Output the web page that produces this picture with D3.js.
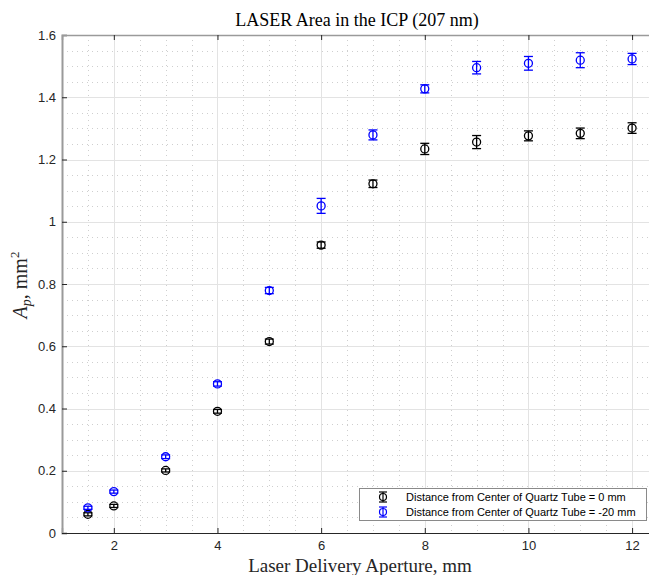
<!DOCTYPE html>
<html>
<head>
<meta charset="utf-8">
<script src="https://cdn.jsdelivr.net/npm/d3@7"></script>
<style>
  html, body { margin: 0; padding: 0; background: #fff; }
  svg { display: block; }
</style>
</head>
<body>
<svg id="chart" width="649" height="575"></svg>
<script>
// ---- data ----
const apertures = [1.5, 2, 3, 4, 5, 6, 7, 8, 9, 10, 11, 12];
const areaCenter = [0.060, 0.087, 0.201, 0.391, 0.615, 0.925, 1.122, 1.234, 1.256, 1.276, 1.284, 1.301];
const errCenter  = [0.005, 0.005, 0.005, 0.006, 0.008, 0.010, 0.012, 0.018, 0.021, 0.016, 0.017, 0.017];
const areaOffset = [0.081, 0.133, 0.245, 0.479, 0.779, 1.051, 1.279, 1.427, 1.495, 1.509, 1.519, 1.523];
const errOffset  = [0.005, 0.005, 0.006, 0.007, 0.010, 0.024, 0.016, 0.013, 0.020, 0.022, 0.024, 0.018];
const seriesNames = ["Distance from Center of Quartz Tube = 0 mm", "Distance from Center of Quartz Tube = -20 mm"];
const seriesColors = ["#000000", "#0000ff"];
const xTicks = [2, 4, 6, 8, 10, 12];
const yTicks = [0, 0.2, 0.4, 0.6, 0.8, 1, 1.2, 1.4, 1.6];
const titleText = "LASER Area in the ICP (207 nm)";
const xLabelText = "Laser Delivery Aperture, mm";

(function () {
// ---- layout ----
const svg = d3.select("#chart");
const pL = 62, pT = 35, pB = 533, pR = 658;
const x = d3.scaleLinear().domain([1, 12.5]).range([pL, pR]);
const y = d3.scaleLinear().domain([0, 1.6]).range([pB, pT]);

svg.append("rect").attr("width", 649).attr("height", 575).attr("fill", "#fff");

// minor grid
const g = svg.append("g");
const xMinor = d3.range(1.5, 12.51, 0.5).filter(v => !xTicks.includes(v));
const yMinor = d3.range(0.05, 1.6, 0.05).filter(v => !yTicks.some(t => Math.abs(t - v) < 1e-6));
g.selectAll(".xm").data(xMinor).join("line")
  .attr("x1", d => Math.round(x(d)) + 0.5).attr("x2", d => Math.round(x(d)) + 0.5)
  .attr("y1", pT).attr("y2", pB)
  .attr("stroke", "#cfcfcf").attr("stroke-width", 1).attr("stroke-dasharray", "1,4");
g.selectAll(".ym").data(yMinor).join("line")
  .attr("y1", d => Math.round(y(d)) + 0.5).attr("y2", d => Math.round(y(d)) + 0.5)
  .attr("x1", pL).attr("x2", pR)
  .attr("stroke", "#cfcfcf").attr("stroke-width", 1).attr("stroke-dasharray", "1,4");
// major grid
g.selectAll(".xg").data(xTicks).join("line")
  .attr("x1", d => Math.round(x(d)) + 0.5).attr("x2", d => Math.round(x(d)) + 0.5)
  .attr("y1", pT).attr("y2", pB)
  .attr("stroke", "#e3e3e3").attr("stroke-width", 1);
g.selectAll(".yg").data(yTicks).join("line")
  .attr("y1", d => Math.round(y(d)) + 0.5).attr("y2", d => Math.round(y(d)) + 0.5)
  .attr("x1", pL).attr("x2", pR)
  .attr("stroke", "#e3e3e3").attr("stroke-width", 1);

// axes
const xAxis = d3.axisBottom(x).tickValues(xTicks).tickSize(-5).tickPadding(8).tickFormat(d3.format("d"));
const yAxis = d3.axisLeft(y).tickValues(yTicks).tickSize(-5).tickPadding(6).tickFormat(d => d3.format("~g")(d));
const gx = svg.append("g").attr("transform", `translate(0,${pB})`).call(xAxis);
const gy = svg.append("g").attr("transform", `translate(${pL},0)`).call(yAxis);
const gxTop = svg.append("g").attr("transform", `translate(0,${pT})`)
  .call(d3.axisTop(x).tickValues(xTicks).tickSize(-5).tickFormat(""));
[gx, gy, gxTop].forEach(a => {
  a.selectAll("text").attr("font-family", "Liberation Sans, Arial, sans-serif")
    .attr("font-size", 13).attr("fill", "#262626");
  a.selectAll(".tick line").attr("stroke", "#262626");
});
gx.select(".domain").attr("stroke", "#262626").attr("stroke-width", 1.2);
gy.select(".domain").attr("stroke", "#9a9a9a").attr("stroke-width", 2);
gxTop.select(".domain").attr("stroke", "#9a9a9a").attr("stroke-width", 1.5);

// data series
const series = [
  { vals: areaCenter, errs: errCenter, color: seriesColors[0] },
  { vals: areaOffset, errs: errOffset, color: seriesColors[1] }
];
const cap = 4.5, r = 4;
series.forEach(s => {
  const pts = apertures.map((a, i) => ({ a, v: s.vals[i], e: s.errs[i] }));
  const sg = svg.append("g").attr("stroke", s.color).attr("fill", "none").attr("stroke-width", 1.3);
  sg.selectAll(".eb").data(pts).join("line")
    .attr("x1", d => x(d.a)).attr("x2", d => x(d.a))
    .attr("y1", d => y(d.v - d.e)).attr("y2", d => y(d.v + d.e));
  sg.selectAll(".ct").data(pts).join("line")
    .attr("x1", d => x(d.a) - cap).attr("x2", d => x(d.a) + cap)
    .attr("y1", d => y(d.v + d.e)).attr("y2", d => y(d.v + d.e));
  sg.selectAll(".cb").data(pts).join("line")
    .attr("x1", d => x(d.a) - cap).attr("x2", d => x(d.a) + cap)
    .attr("y1", d => y(d.v - d.e)).attr("y2", d => y(d.v - d.e));
  sg.selectAll("circle").data(pts).join("circle")
    .attr("cx", d => x(d.a)).attr("cy", d => y(d.v)).attr("r", r);
});

// legend
const lg = svg.append("g");
lg.append("rect").attr("x", 359.5).attr("y", 488.5).attr("width", 287).attr("height", 32)
  .attr("fill", "#fff").attr("stroke", "#8a8a8a").attr("stroke-width", 1);
seriesNames.forEach((name, i) => {
  const cy = 497 + i * 15;
  const ig = lg.append("g").attr("stroke", seriesColors[i]).attr("fill", "none").attr("stroke-width", 1.2);
  ig.append("line").attr("x1", 383).attr("x2", 383).attr("y1", cy - 5).attr("y2", cy + 5);
  ig.append("line").attr("x1", 379).attr("x2", 387).attr("y1", cy - 5).attr("y2", cy - 5);
  ig.append("line").attr("x1", 379).attr("x2", 387).attr("y1", cy + 5).attr("y2", cy + 5);
  ig.append("circle").attr("cx", 383).attr("cy", cy).attr("r", 3.5);
  lg.append("text").attr("x", 406).attr("y", cy + 4)
    .attr("font-family", "Liberation Sans, Arial, sans-serif").attr("font-size", 11)
    .attr("fill", "#000").text(name);
});

// title and labels
svg.append("text").attr("x", 357).attr("y", 26).attr("text-anchor", "middle")
  .attr("font-family", "Liberation Serif, Times New Roman, serif").attr("font-size", 18)
  .attr("fill", "#000").text(titleText);
svg.append("text").attr("x", 360).attr("y", 572).attr("text-anchor", "middle")
  .attr("font-family", "Liberation Serif, Times New Roman, serif").attr("font-size", 19)
  .attr("fill", "#262626").text(xLabelText);
const yl = svg.append("text").attr("transform", "translate(27,285) rotate(-90)")
  .attr("text-anchor", "middle")
  .attr("font-family", "Liberation Serif, Times New Roman, serif").attr("font-size", 20)
  .attr("fill", "#262626");
yl.append("tspan").attr("font-style", "italic").text("A");
yl.append("tspan").attr("font-style", "italic").attr("font-size", 14).attr("dy", 4).text("p");
yl.append("tspan").attr("dy", -4).text(", mm");
yl.append("tspan").attr("font-size", 13).attr("dy", -8).text("2");
})();
</script>
</body>
</html>
